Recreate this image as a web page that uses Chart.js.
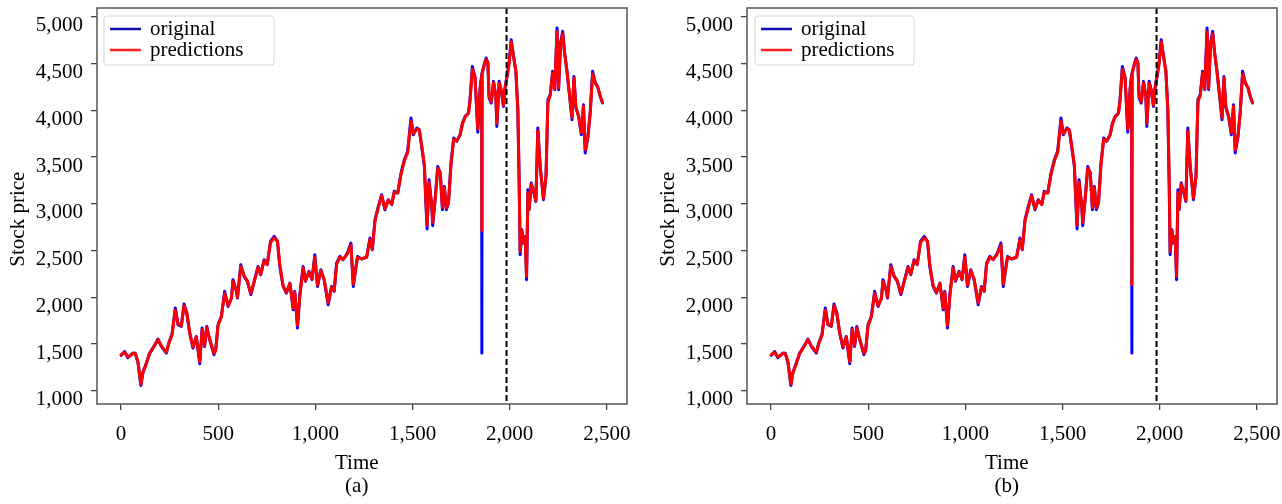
<!DOCTYPE html>
<html>
<head>
<meta charset="utf-8">
<title>Stock price: original vs predictions</title>
<script src="https://cdn.jsdelivr.net/npm/chart.js@4.4.1/dist/chart.umd.min.js"></script>
<style>
  html, body { margin: 0; padding: 0; background: #fff; }
  #wrap { position: relative; width: 1282px; height: 504px; }
  #wrap canvas { position: absolute; top: 0; }
</style>
</head>
<body>
<div id="wrap">
  <canvas id="chartA" width="640" height="504" style="left:0px"></canvas>
  <canvas id="chartB" width="642" height="504" style="left:640px"></canvas>
</div>
<script>
// ------------------------- DATA -------------------------
const timeIdx = [
  0, 18, 35, 61, 73, 87, 100, 102, 112, 130,
  147, 169, 190, 207, 233, 245, 262, 279, 293, 310,
  324, 338, 353, 370, 387, 405, 417, 430, 441, 456,
  478, 487, 499, 516, 533, 551, 568, 576, 594, 599,
  616, 633, 650, 668, 685, 705, 719, 736, 752, 769,
  788, 805, 817, 834, 851, 869, 886, 894, 908, 920,
  937, 949, 967, 983, 997, 1011, 1028, 1045, 1066, 1083,
  1097, 1109, 1126, 1143, 1165, 1183, 1195, 1207, 1217, 1238,
  1264, 1281, 1293, 1307, 1324, 1341, 1358, 1375, 1393, 1406,
  1424, 1441, 1458, 1475, 1492, 1504, 1522, 1535, 1547, 1561,
  1568, 1575, 1585, 1599, 1604, 1616, 1630, 1643, 1654, 1664,
  1674, 1685, 1698, 1712, 1727, 1745, 1757, 1771, 1788, 1796,
  1808, 1822, 1836, 1848, 1856, 1857, 1858, 1870, 1879, 1888,
  1894, 1905, 1917, 1929, 1934, 1946, 1956, 1968, 1977, 1986,
  1997, 2008, 2020, 2032, 2042, 2049, 2054, 2063, 2071, 2080,
  2087, 2094, 2100, 2111, 2123, 2135, 2145, 2157, 2174, 2187,
  2197, 2209, 2221, 2232, 2244, 2252, 2262, 2273, 2283, 2295,
  2307, 2321, 2331, 2341, 2355, 2369, 2380, 2389, 2403, 2415,
  2427, 2441, 2455, 2466, 2478
];

const original = [
  1378, 1420, 1353, 1403, 1400, 1300, 1082, 1055, 1196, 1296,
  1403, 1474, 1553, 1474, 1403, 1510, 1600, 1885, 1706, 1688,
  1928, 1831, 1617, 1457, 1581, 1289, 1671, 1474, 1688, 1546,
  1385, 1439, 1706, 1795, 2063, 1902, 1992, 2188, 2063, 1992,
  2348, 2223, 2170, 2027, 2170, 2330, 2241, 2402, 2348, 2598,
  2651, 2598, 2330, 2116, 2045, 2152, 1867, 2063, 1671, 2027,
  2330, 2170, 2277, 2188, 2455, 2116, 2295, 2188, 1920, 2116,
  2063, 2366, 2437, 2402, 2473, 2580, 2116, 2300, 2437, 2409,
  2430, 2634, 2509, 2830, 2972, 3097, 2937, 3044, 2990, 3133,
  3115, 3329, 3472, 3561, 3918, 3739, 3811, 3793, 3614, 3400,
  3044, 2730, 3258, 2972, 2766, 3044, 3400, 3329, 2937, 3186,
  2937, 3008, 3436, 3704, 3668, 3739, 3864, 3935, 3971, 4114,
  4470, 4350, 3766, 4240, 4380, 1403, 4400, 4500, 4560, 4506,
  4132, 4078, 4310, 4149, 3828, 4310, 4221, 4042, 4256, 4363,
  4506, 4756, 4577, 4417, 4007, 3222, 2455, 2723, 2580, 2651,
  2188, 3151, 2937, 3222, 3133, 3026, 3811, 3400, 3044, 3293,
  4114, 4167, 4417, 4221, 4881, 4221, 4720, 4845, 4613, 4417,
  4185, 3900, 4363, 4025, 3935, 3739, 4060, 3543, 3721, 3989,
  4417, 4292, 4239, 4149, 4078
];

// predictions of model (a); model (b) differs only at the outlier step
const predictions = [
  1385, 1410, 1362, 1398, 1396, 1310, 1095, 1070, 1190, 1290,
  1398, 1470, 1545, 1480, 1412, 1500, 1596, 1862, 1715, 1694,
  1910, 1836, 1625, 1468, 1575, 1310, 1655, 1485, 1676, 1552,
  1400, 1436, 1695, 1790, 2040, 1910, 1988, 2170, 2068, 2000,
  2330, 2230, 2175, 2040, 2165, 2318, 2248, 2390, 2352, 2585,
  2635, 2600, 2345, 2125, 2052, 2146, 1885, 2050, 1700, 2010,
  2312, 2180, 2270, 2195, 2430, 2130, 2285, 2195, 1940, 2105,
  2070, 2350, 2430, 2405, 2465, 2560, 2140, 2290, 2425, 2412,
  2428, 2615, 2515, 2815, 2960, 3085, 2948, 3038, 2995, 3120,
  3118, 3315, 3460, 3550, 3885, 3750, 3800, 3790, 3625, 3415,
  3070, 2770, 3230, 2985, 2800, 3030, 3380, 3330, 2960, 3170,
  2955, 3005, 3415, 3690, 3672, 3735, 3855, 3928, 3968, 4100,
  4440, 4345, 3800, 4220, 4370, 2715, 4390, 4490, 4545, 4510,
  4150, 4090, 4295, 4155, 3860, 4290, 4225, 4055, 4245, 4355,
  4495, 4730, 4580, 4420, 4020, 3250, 2490, 2710, 2590, 2645,
  2225, 3120, 2945, 3210, 3135, 3035, 3780, 3410, 3060, 3285,
  4090, 4160, 4400, 4230, 4840, 4240, 4705, 4820, 4615, 4420,
  4190, 3920, 4345, 4035, 3940, 3760, 4045, 3575, 3715, 3980,
  4390, 4295, 4240, 4155, 4085
];

const outlierTime = 1857;
const outlierPredB = 2134;
const splitTime = 1984;          // train / test boundary (dashed line)

const xTicks = [0, 500, 1000, 1500, 2000, 2500];
const yTicks = [1000, 1500, 2000, 2500, 3000, 3500, 4000, 4500, 5000];
const xRange = [-124, 2604];
const yRange = [858, 5095];

// ------------------------- HELPERS -------------------------
const SERIF = "'Liberation Serif', 'Times New Roman', serif";

function toXY(values) {
  return timeIdx.map((t, i) => ({ x: t, y: values[i] }));
}

const predictionsB = predictions.map((v, i) => (timeIdx[i] === outlierTime ? outlierPredB : v));

// frame, split line and legend box (matplotlib look)
const framePlugin = {
  id: 'frame',
  afterDatasetsDraw(chart) {
    const { ctx, chartArea, scales } = chart;
    const x = scales.x.getPixelForValue(splitTime);
    ctx.save();
    ctx.strokeStyle = '#000';
    ctx.lineWidth = 2;
    ctx.setLineDash([6, 3]);
    ctx.beginPath();
    ctx.moveTo(x, chartArea.top);
    ctx.lineTo(x, chartArea.bottom);
    ctx.stroke();
    ctx.restore();
  },
  afterDraw(chart, args, opts) {
    const { ctx, chartArea } = chart;
    ctx.save();
    ctx.strokeStyle = '#555';
    ctx.lineWidth = 1.5;
    ctx.strokeRect(chartArea.left, chartArea.top, chartArea.right - chartArea.left, chartArea.bottom - chartArea.top);

    // legend
    const lx = chartArea.left + opts.dx, ly = chartArea.top + 8, w = opts.legendWidth, h = 49;
    ctx.fillStyle = 'rgba(255,255,255,0.85)';
    ctx.strokeStyle = '#d4d4d4';
    ctx.lineWidth = 1;
    ctx.beginPath();
    ctx.roundRect(lx, ly, w, h, 3);
    ctx.fill();
    ctx.stroke();
    ctx.font = '21px ' + SERIF;
    ctx.textBaseline = 'middle';
    chart.data.datasets.forEach((ds, i) => {
      const y = ly + 13 + i * 21;
      ctx.strokeStyle = ds.legendColor;
      ctx.lineWidth = 2.5;
      ctx.beginPath();
      ctx.moveTo(lx + 6, y);
      ctx.lineTo(lx + 37, y);
      ctx.stroke();
      ctx.fillStyle = '#000';
      ctx.fillText(ds.label, lx + 46, y);
    });
    ctx.restore();
  }
};

function makeChart(id, pred, padding, tag, legendWidth, dx) {
  return new Chart(document.getElementById(id), {
    type: 'line',
    data: {
      datasets: [
        { label: 'original', data: toXY(original), borderColor: '#0000ff', legendColor: '#1010b0',
          borderWidth: 3, pointRadius: 0, order: 2 },
        { label: 'predictions', data: toXY(pred), borderColor: '#ff0000', legendColor: '#ff2020',
          borderWidth: 3, pointRadius: 0, order: 1 }
      ]
    },
    options: {
      responsive: false,
      animation: false,
      devicePixelRatio: 1,
      layout: { padding },
      elements: { line: { tension: 0, borderJoinStyle: 'round', borderCapStyle: 'round' } },
      plugins: {
        legend: { display: false },
        tooltip: { enabled: false },
        frame: { legendWidth, dx }
      },
      scales: {
        x: {
          type: 'linear',
          min: xRange[0],
          max: xRange[1],
          afterBuildTicks: s => { s.ticks = xTicks.map(v => ({ value: v })); },
          ticks: { color: '#000', font: { family: SERIF, size: 21 }, padding: 12, maxRotation: 0 },
          grid: { drawOnChartArea: false, drawTicks: true, tickLength: 6, color: '#444', lineWidth: 1.3 },
          border: { display: false },
          title: {
            display: true,
            text: ['Time  ', tag + '  '],
            color: '#000',
            font: { family: SERIF, size: 21, lineHeight: 1.1 },
            padding: { top: 0, bottom: 5.5 }
          },
          afterFit: s => { s.height = 100; s.paddingLeft = 0; s.paddingRight = 0; }
        },
        y: {
          type: 'linear',
          min: yRange[0],
          max: yRange[1],
          afterBuildTicks: s => { s.ticks = yTicks.map(v => ({ value: v })); },
          ticks: { color: '#000', font: { family: SERIF, size: 21 }, padding: 8, labelOffset: 9 },
          grid: { drawOnChartArea: false, drawTicks: true, tickLength: 6, color: '#444', lineWidth: 1.3 },
          border: { display: false },
          title: {
            display: true,
            text: 'Stock price     ',
            color: '#000',
            font: { family: SERIF, size: 21 },
            padding: { top: 5.5, bottom: 0 }
          },
          afterFit: s => { s.width = 97; s.paddingTop = 0; s.paddingBottom = 0; }
        }
      }
    },
    plugins: [framePlugin]
  });
}

makeChart('chartA', predictions, { left: 0, right: 13, top: 8, bottom: 0 }, '(a)', 170, 7);
makeChart('chartB', predictionsB, { left: 10, right: 5, top: 8, bottom: 0 }, '(b)', 159, 8);
</script>
</body>
</html>
